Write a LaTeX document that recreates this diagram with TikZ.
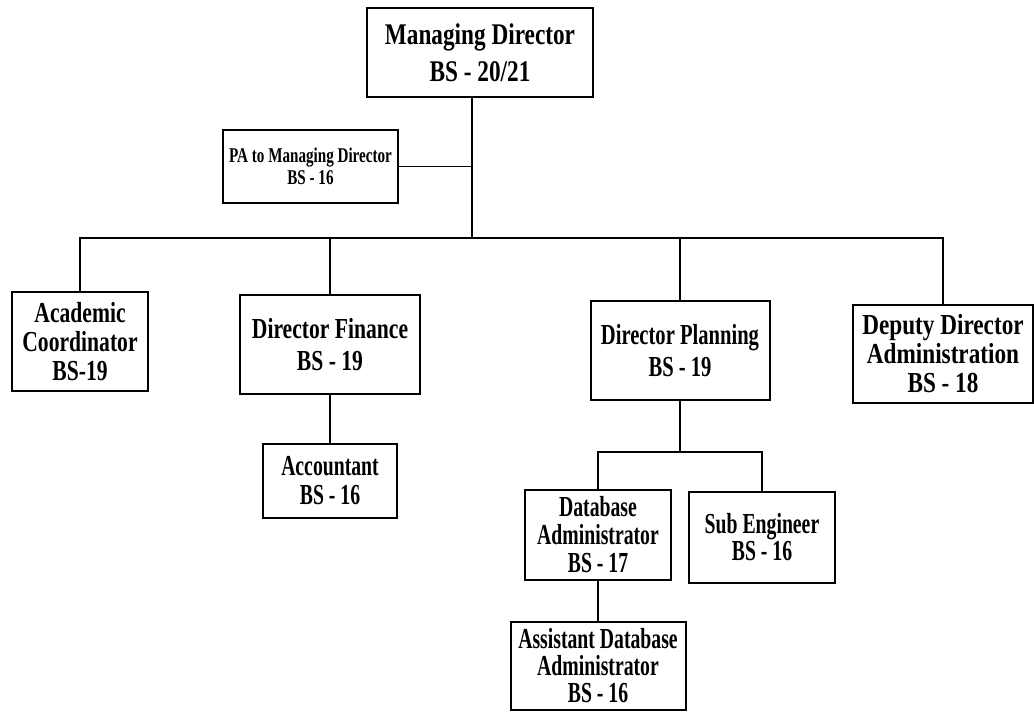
\documentclass[tikz,border=0pt]{standalone}
\usepackage{fontspec}
\newfontfamily\fA{Liberation Serif}[FakeStretch=0.68]
\newfontfamily\fB{Liberation Serif}[FakeStretch=0.71]
\newfontfamily\fC{Liberation Serif}[FakeStretch=0.745]
\newfontfamily\fD{Liberation Serif}[FakeStretch=0.775]
\newfontfamily\fE{Liberation Serif}[FakeStretch=0.80]
\newfontfamily\fF{Liberation Serif}[FakeStretch=0.72]
\tikzset{
  px/.style={x=1pt,y=-1pt},
  box/.style={draw, line width=2pt, inner sep=0pt, align=center},
  link/.style={line width=1.8pt}
}
\begin{document}
\begin{tikzpicture}[px]
\useasboundingbox (0,0) rectangle (1034,715);
\node[box,font=\fD\bfseries\fontsize{30}{37}\selectfont,minimum width=226pt,minimum height=89pt] (md) at (480,52.5) {Managing Director\\BS - 20/21};
\node[box,font=\fF\bfseries\fontsize{21}{22}\selectfont,minimum width=175pt,minimum height=73pt] (pa) at (310.5,166.5) {PA to Managing Director\\BS - 16};
\node[box,font=\fC\bfseries\fontsize{29}{29}\selectfont,minimum width=136pt,minimum height=99pt] (ac) at (80,341.5) {Academic\\Coordinator\\BS-19};
\node[box,font=\fC\bfseries\fontsize{29}{32}\selectfont,minimum width=180pt,minimum height=99pt] (df) at (330,344.5) {Director Finance\\BS - 19};
\node[box,font=\fB\bfseries\fontsize{29}{32}\selectfont,minimum width=179pt,minimum height=99pt] (dp) at (680,350.5) {Director Planning\\BS - 19};
\node[box,font=\fE\bfseries\fontsize{29}{29}\selectfont,minimum width=180pt,minimum height=98pt] (dd) at (943,354) {Deputy Director\\Administration\\BS - 18};
\node[box,font=\fA\bfseries\fontsize{29}{29}\selectfont,minimum width=134pt,minimum height=74pt] (acc) at (330,481) {Accountant\\BS - 16};
\node[box,font=\fA\bfseries\fontsize{29}{28}\selectfont,minimum width=146pt,minimum height=90pt] (dba) at (598,535) {Database\\Administrator\\BS - 17};
\node[box,font=\fA\bfseries\fontsize{29}{27}\selectfont,minimum width=146pt,minimum height=91pt] (se) at (762,537.5) {Sub Engineer\\BS - 16};
\node[box,font=\fA\bfseries\fontsize{29}{27}\selectfont,minimum width=175pt,minimum height=88pt] (ada) at (598,666) {Assistant Database\\Administrator\\BS - 16};
\coordinate (tr) at (472,238);
\coordinate (sb) at (680,452);
\draw[link] (md.south -| tr) -- (tr);
\draw[link] (pa.east) -- (pa.east -| tr);
\draw[link] (ac.north) |- (tr) -| (dd.north);
\draw[link] (df.north) -- (df.north |- tr);
\draw[link] (dp.north) -- (dp.north |- tr);
\draw[link] (df.south) -- (acc.north);
\draw[link] (dp.south) -- (sb);
\draw[link] (dba.north) |- (sb) -| (se.north);
\draw[link] (dba.south) -- (ada.north);
\end{tikzpicture}
\end{document}
